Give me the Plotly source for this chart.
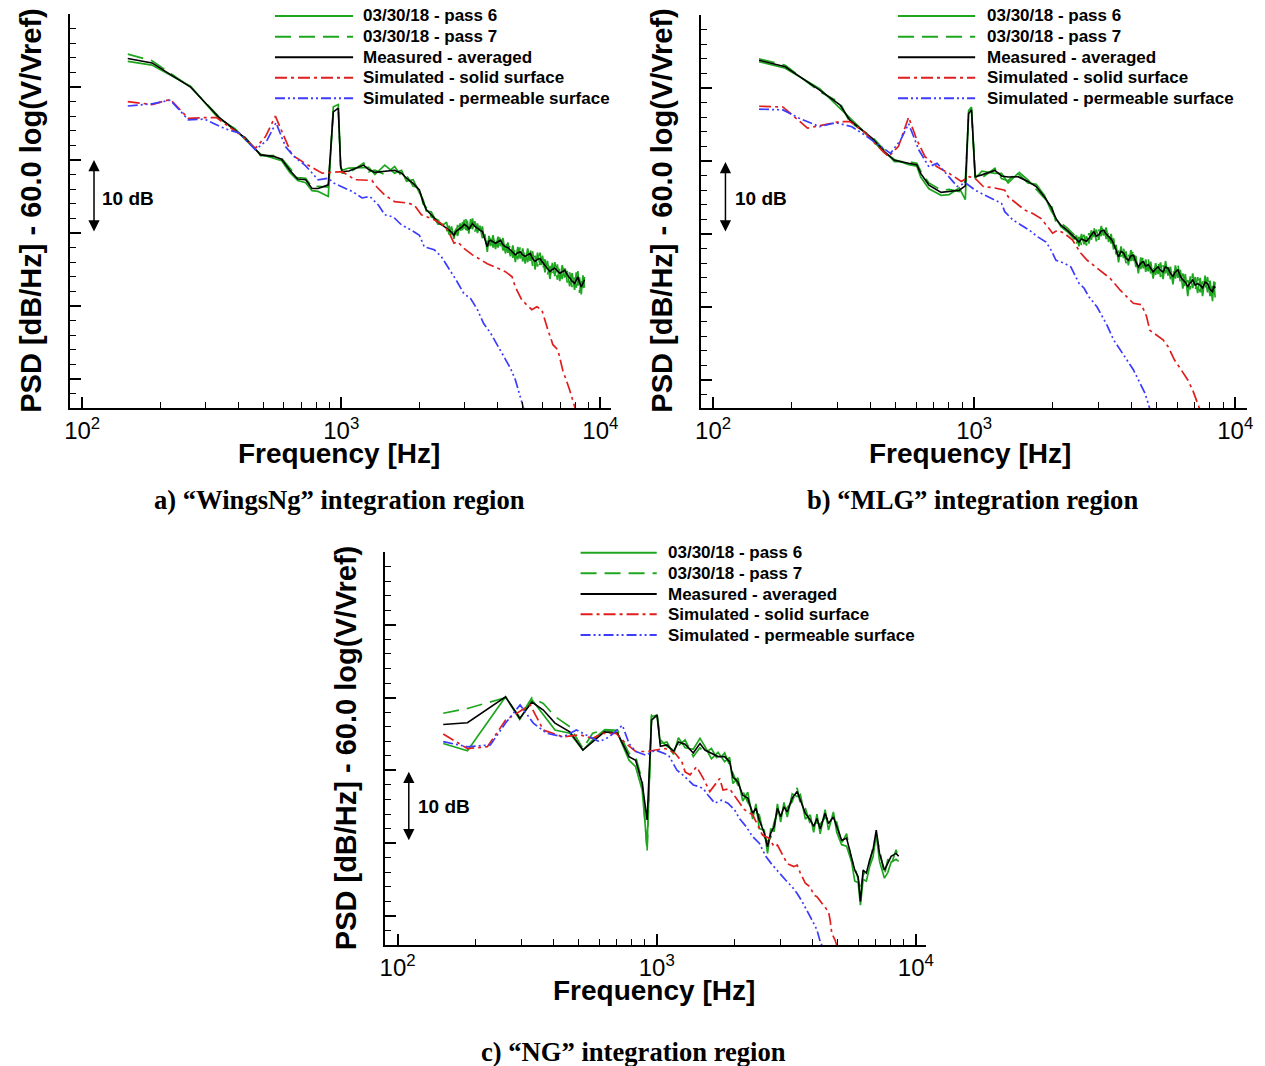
import plotly.graph_objects as go

W, H = 1265, 1066

# ---------------- data: panel a ("WingsNg") ----------------
A_freq = [150, 186, 262, 336, 389, 426, 488, 548, 589, 633, 679, 729, 771, 814, 891, 932, 974, 995, 1009, 1070,
          1221, 1276, 1348, 1472, 1607, 1709, 1786, 1895, 2003, 2069, 2129, 2224, 2361, 2494] + \
         [2550, 2606, 2665, 2723, 2768, 2813, 2876, 2939, 2982, 3026, 3066, 3107, 3158, 3210, 3281, 3354, 3429, 3505, 3583, 3662,
          3716, 3770, 3854, 3939, 4027, 4117, 4209, 4302, 4398, 4496, 4596, 4698, 4802, 4908, 5017, 5128, 5242, 5358, 5477, 5598,
          5722, 5850, 5980, 6113, 6249, 6387, 6529, 6674, 6822, 6974, 7129, 7287, 7449, 7614, 7783, 7957, 8073, 8190, 8315, 8440,
          8565, 8690]
A_pass6 = [53.5, 53.0, 50.1, 45.7, 44.3, 42.8, 40.8, 40.3, 39.9, 38.3, 37.2, 36.9, 35.8, 35.7, 35.0, 47.3, 47.6, 39.0, 38.6, 38.9,
           38.9, 39.0, 38.0, 39.3, 38.2, 38.6, 37.1, 37.3, 35.5, 34.6, 33.0, 32.9, 31.2, 31.2] + \
          [31.5, 29.8, 30.9, 29.2, 30.6, 29.6, 31.3, 30.4, 31.8, 30.4, 31.7, 29.9, 31.9, 30.5, 31.6, 30.0, 31.0, 29.3, 29.8, 27.4,
           29.6, 28.2, 29.7, 27.8, 29.5, 28.2, 29.3, 27.2, 28.7, 26.8, 28.3, 26.0, 28.1, 26.5, 27.9, 25.8, 27.9, 26.2, 27.5, 25.0,
           27.3, 25.6, 26.9, 24.6, 26.2, 23.7, 25.9, 24.1, 25.7, 23.4, 25.6, 23.9, 24.8, 22.7, 24.5, 22.2, 24.6, 22.8, 23.9, 21.6,
           24.2, 22.5]
A_pass7 = [54.5, 53.6, 50.0, 46.0, 44.0, 43.1, 40.6, 40.6, 40.2, 38.8, 37.6, 37.5, 36.3, 36.4, 36.3, 46.8, 46.9, 39.3, 38.2, 38.2,
           39.6, 38.4, 38.6, 38.0, 39.1, 37.8, 37.9, 36.4, 36.2, 34.0, 33.5, 32.2, 31.8, 30.6] + \
          [30.2, 31.0, 29.5, 30.3, 29.8, 31.1, 30.0, 31.5, 30.6, 31.9, 30.3, 31.2, 30.6, 32.0, 30.2, 31.3, 29.8, 30.9, 28.4, 28.9,
           28.3, 29.8, 28.0, 29.4, 28.0, 29.8, 27.6, 28.9, 27.3, 28.5, 26.6, 27.8, 26.4, 28.1, 26.1, 27.6, 26.0, 28.0, 25.5, 26.9,
           25.4, 27.3, 24.9, 26.4, 24.3, 25.5, 24.0, 26.0, 23.6, 25.3, 23.7, 25.7, 23.2, 24.6, 22.6, 23.9, 22.5, 24.8, 21.8, 23.4,
           22.3, 24.0]
A_avg = [53.9, 53.3, 50.0, 45.9, 44.1, 43.0, 40.7, 40.5, 40.1, 38.6, 37.4, 37.3, 36.1, 36.1, 36.6, 46.6, 47.1, 39.1, 38.4, 38.5,
         39.3, 38.7, 38.3, 38.5, 38.6, 38.2, 37.5, 36.8, 35.9, 34.3, 33.2, 32.5, 31.5, 30.9] + \
        [30.7, 30.4, 30.1, 29.7, 30.2, 30.4, 30.6, 30.9, 31.2, 31.1, 30.9, 30.5, 31.0, 31.3, 30.9, 30.6, 30.4, 30.2, 29.0, 28.1,
         28.9, 29.0, 28.8, 28.6, 28.8, 29.0, 28.4, 28.1, 28.0, 27.7, 27.4, 27.0, 27.3, 27.4, 27.0, 26.8, 27.0, 27.2, 26.5, 26.1,
         26.4, 26.5, 26.0, 25.6, 25.2, 24.7, 25.0, 25.2, 24.8, 24.5, 24.7, 24.9, 24.3, 23.8, 23.4, 23.1, 23.6, 24.0, 23.2, 22.6,
         23.1, 23.6]
A_solid_freq = [150, 186, 219, 257, 297, 330, 361, 411, 466, 510, 557, 610, 645, 729, 844, 908, 1009, 1131, 1313, 1372,
                1472, 1607, 1813, 1916, 2038, 2224, 2430, 2577, 2723, 2813, 2974, 3210, 3453, 3662, 4000, 4302, 4564, 4698, 4982, 5440,
                5685, 5940, 6280, 6560, 6855, 7161, 7614, 7957, 8150]
A_solid = [48.0, 47.6, 48.3, 45.7, 45.8, 45.8, 44.8, 43.4, 41.6, 43.2, 46.0, 42.7, 40.7, 39.5, 38.2, 38.3, 38.4, 37.3, 37.2, 36.3,
           35.2, 34.3, 34.1, 33.8, 32.5, 32.0, 31.3, 30.4, 28.6, 28.8, 27.9, 27.0, 26.3, 25.8, 25.2, 24.7, 24.0, 22.6, 20.8, 19.5,
           19.9, 19.5, 16.7, 14.7, 14.0, 11.2, 8.5, 6.2, 5.0]
A_perm_freq = [150, 186, 219, 257, 297, 355, 404, 466, 517, 560, 610, 656, 729, 814, 891, 940, 1009, 1102, 1203, 1290,
               1393, 1472, 1589, 1709, 1866, 2003, 2092, 2285, 2430, 2577, 2772, 2974, 3162, 3354, 3545, 3770, 4000, 4227, 4496, 4698,
               4908, 5040, 5150]
A_perm = [47.4, 47.7, 48.2, 45.5, 45.6, 44.3, 43.7, 41.4, 42.7, 45.1, 41.8, 40.5, 39.2, 37.3, 37.5, 36.8, 36.3, 35.7, 34.8, 35.0,
          33.8, 32.5, 32.2, 31.1, 30.4, 29.7, 28.1, 27.7, 26.8, 25.4, 23.6, 21.7, 21.0, 19.5, 17.6, 16.3, 14.7, 13.1, 11.5, 9.9,
          7.6, 6.2, 5.0]

# ---------------- data: panel b ("MLG") ----------------
B_freq = [150, 189, 256, 306, 334, 407, 453, 495, 561, 603, 624, 671, 747, 802, 877, 925, 952, 977, 1009, 1070,
          1201, 1273, 1349, 1472, 1606, 1728, 1857, 1970, 2058, 2149, 2276, 2413] + \
         [2465, 2520, 2577, 2634, 2692, 2751, 2811, 2873, 2937, 3002, 3068, 3135, 3204, 3274, 3346, 3420, 3496, 3573, 3652, 3732,
          3814, 3898, 3984, 4072, 4162, 4254, 4348, 4443, 4541, 4642, 4744, 4848, 4955, 5064, 5176, 5291, 5407, 5526, 5648, 5773,
          5900, 6030, 6163, 6299, 6438, 6580, 6725, 6873, 7024, 7178, 7337, 7499, 7664, 7833, 8007, 8185, 8280, 8375]
B_pass6 = [53.6, 52.7, 49.9, 47.3, 45.9, 42.9, 41.1, 40.2, 39.5, 39.3, 37.8, 36.2, 35.3, 35.4, 36.3, 34.7, 46.9, 47.4, 37.6, 38.6,
           38.3, 38.3, 37.0, 38.3, 37.0, 36.8, 35.3, 33.2, 32.0, 31.0, 30.3, 29.3] + \
          [29.8, 28.3, 30.0, 28.6, 29.7, 28.7, 30.5, 29.6, 30.6, 29.2, 31.1, 29.8, 30.9, 28.9, 30.0, 27.9, 28.5, 26.1, 28.3, 26.7,
           27.6, 25.7, 27.8, 26.3, 27.0, 24.6, 26.8, 25.3, 26.5, 24.9, 26.2, 23.9, 26.0, 24.5, 26.1, 23.8, 26.3, 24.3, 25.5, 23.1,
           25.7, 24.0, 25.1, 22.5, 24.5, 21.5, 24.2, 22.6, 24.1, 21.9, 24.0, 21.5, 24.3, 22.0, 23.6, 20.8, 23.5, 21.3]
B_pass7 = [54.0, 53.1, 49.5, 48.0, 45.3, 43.3, 41.5, 39.9, 39.9, 39.7, 38.6, 37.0, 36.0, 36.1, 35.8, 37.3, 46.2, 46.7, 38.1, 37.7,
           39.0, 37.6, 37.3, 38.6, 37.4, 36.1, 34.9, 34.1, 31.6, 31.5, 30.8, 29.9] + \
          [28.7, 29.6, 28.5, 29.9, 28.4, 30.1, 29.2, 31.0, 29.0, 30.6, 29.7, 31.2, 29.3, 30.3, 28.7, 29.4, 27.2, 27.7, 26.9, 28.1,
           26.0, 27.2, 26.3, 27.9, 25.5, 26.4, 25.2, 27.0, 24.8, 26.6, 24.6, 25.6, 24.4, 26.3, 24.1, 25.7, 24.6, 26.0, 23.8, 25.1,
           23.9, 25.9, 23.3, 24.6, 22.6, 23.7, 22.4, 24.6, 22.2, 24.1, 22.0, 23.5, 22.5, 24.1, 21.5, 22.9, 21.9, 23.4]
B_avg = [53.8, 52.9, 49.7, 47.7, 45.6, 43.1, 41.3, 40.1, 39.7, 39.5, 38.3, 36.7, 35.7, 35.8, 36.0, 36.6, 46.5, 47.0, 37.85, 38.1,
         38.7, 37.95, 37.8, 37.85, 37.2, 36.5, 35.1, 33.7, 32.1, 31.2, 30.5, 29.6] + \
        [29.2, 28.9, 29.3, 29.2, 29.0, 29.4, 29.9, 30.3, 29.7, 29.9, 30.4, 30.5, 30.0, 29.6, 29.3, 28.7, 27.8, 26.9, 27.6, 27.4,
         26.7, 26.4, 27.0, 27.1, 26.2, 25.5, 26.0, 26.2, 25.6, 25.8, 25.3, 24.8, 25.2, 25.5, 25.0, 24.8, 25.5, 25.3, 24.6, 24.2,
         24.8, 25.1, 24.2, 23.7, 23.4, 22.8, 23.3, 23.7, 23.0, 23.2, 23.0, 22.6, 23.4, 23.2, 22.4, 22.1, 22.9, 22.6]
B_solid_freq = [150, 185, 230, 265, 306, 334, 379, 422, 470, 513, 561, 603, 648, 721, 802, 893, 960, 1009, 1084, 1201,
                1310, 1349, 1472, 1560, 1677, 1805, 1911, 1997, 2086, 2212, 2377, 2558, 2710, 2916, 3135, 3322, 3627, 3842, 4072, 4378,
                4574, 4710, 4989, 5291, 5526, 5860, 6205, 6580, 6873, 7178, 7400]
B_solid = [47.5, 47.4, 44.5, 44.9, 45.4, 45.4, 44.0, 42.2, 40.6, 42.0, 46.0, 42.9, 40.6, 39.2, 38.3, 37.2, 37.85, 37.6, 36.5, 36.3,
           36.0, 35.1, 34.0, 33.3, 32.8, 32.1, 31.0, 30.1, 30.5, 30.1, 29.2, 27.4, 26.4, 25.5, 24.6, 23.9, 22.3, 21.4, 20.5, 20.3,
           18.7, 16.8, 16.2, 15.5, 14.6, 12.7, 11.4, 10.0, 8.6, 6.8, 5.5]
B_perm_freq = [150, 185, 214, 256, 295, 340, 379, 422, 478, 523, 561, 614, 671, 721, 802, 862, 926, 1009, 1101, 1201,
               1273, 1310, 1409, 1516, 1630, 1752, 1886, 1970, 2058, 2212, 2345, 2413, 2520, 2634, 2751, 2957, 3089, 3227, 3420, 3627,
               3842, 4072, 4317, 4509, 4642, 4750]
B_perm = [47.1, 47.0, 45.85, 44.7, 45.25, 44.7, 43.6, 42.4, 41.05, 42.9, 45.1, 41.5, 39.2, 39.7, 37.85, 36.5, 37.0, 36.0, 35.3, 34.65,
          34.2, 33.05, 31.9, 31.2, 30.5, 29.6, 28.9, 27.8, 26.4, 26.0, 25.5, 24.6, 23.25, 22.6, 21.4, 20.0, 18.7, 17.5, 15.5, 14.1,
          12.7, 11.4, 9.55, 8.2, 6.8, 5.5]

# ---------------- data: panel c ("NG") ----------------
C_freq = [150, 186, 261, 296, 330, 365, 405, 462, 519, 566, 628, 706, 782, 829, 879, 918, 955, 1003, 1033, 1095,
          1161, 1213, 1287, 1384, 1469, 1535, 1626, 1725, 1829, 1911, 1968, 2056, 2148, 2245, 2346, 2415, 2488, 2600, 2677, 2756,
          2840, 2923, 3009, 3099, 3190, 3334, 3483, 3585, 3747, 3915, 4034, 4153, 4275, 4467, 4603, 4808, 4952, 5173, 5405, 5648,
          5814, 5991, 6113, 6260, 6445, 6635, 6836, 7037, 7244, 7568, 7800, 8030, 8390, 8590]
C_pass6 = [33.7, 32.7, 40.1, 37.0, 39.7, 37.6, 35.55, 35.1, 32.8, 34.2, 35.55, 35.1, 31.4, 30.5, 27.3, 19.5, 37.4, 37.6, 33.7, 33.9,
           32.2, 34.5, 33.1, 32.9, 34.4, 33.3, 31.6, 32.5, 31.2, 31.8, 28.2, 29.0, 25.8, 27.0, 23.3, 25.4, 22.0, 21.8, 18.6, 22.0,
           21.6, 25.4, 22.9, 25.6, 23.6, 26.8, 26.4, 26.7, 23.3, 23.9, 21.5, 24.0, 21.3, 24.6, 21.8, 24.3, 21.5, 19.8, 19.6, 17.5,
           14.8, 14.6, 11.5, 15.0, 14.8, 16.8, 18.1, 21.2, 17.5, 15.2, 16.0, 17.4, 17.8, 17.5]
C_pass7 = [37.85, 38.5, 40.0, 37.3, 40.0, 39.2, 37.4, 36.0, 33.0, 35.1, 35.6, 35.5, 32.35, 31.9, 28.6, 18.8, 37.6, 37.85, 34.2, 33.3,
           32.8, 33.4, 34.2, 31.9, 33.1, 32.4, 33.0, 31.4, 32.4, 30.7, 29.7, 28.0, 27.2, 25.6, 24.6, 24.3, 23.9, 20.9, 20.2, 20.8,
           22.9, 24.2, 24.3, 24.5, 24.9, 25.7, 27.6, 25.4, 24.8, 22.6, 23.0, 22.8, 22.6, 23.5, 23.3, 23.0, 22.9, 20.0, 21.3, 17.6,
           16.9, 15.0, 13.5, 15.6, 16.5, 16.9, 19.7, 20.9, 19.2, 15.6, 17.8, 17.0, 19.1, 17.6]
C_avg = [36.3, 36.55, 40.1, 37.15, 39.4, 38.3, 36.5, 35.3, 32.8, 33.9, 35.3, 35.1, 31.9, 31.4, 28.2, 23.2, 36.9, 37.6, 33.3, 33.5,
         32.6, 33.9, 33.6, 32.4, 33.7, 32.8, 32.35, 31.9, 31.9, 31.2, 29.1, 28.45, 26.6, 26.2, 24.1, 24.8, 23.2, 21.4, 19.5, 21.4,
         22.3, 24.8, 23.65, 25.0, 24.3, 26.2, 27.1, 26.0, 24.1, 23.2, 22.3, 23.4, 22.0, 24.1, 22.7, 23.6, 22.3, 20.4, 20.7, 18.2,
         16.3, 15.4, 12.0, 16.3, 15.9, 17.7, 19.1, 21.8, 18.6, 16.3, 17.2, 18.2, 18.6, 18.2]
C_solid_freq = [150, 186, 222, 261, 325, 365, 435, 504, 566, 618, 696, 760, 829, 918, 989, 1079, 1179, 1250, 1287, 1345,
                1425, 1512, 1603, 1751, 1802, 1911, 2025, 2181, 2346, 2451, 2561, 2716, 2840, 2923, 3053, 3190, 3383, 3483, 3585, 3747,
                3915, 4034, 4153, 4405, 4603, 4670, 4740, 4880, 5000]
C_solid = [35.0, 33.0, 33.25, 36.9, 39.0, 35.55, 34.6, 34.9, 34.4, 35.1, 35.1, 33.7, 32.6, 32.6, 32.8, 33.0, 32.35, 31.2, 29.8, 29.4,
           30.5, 28.9, 27.1, 28.9, 27.3, 27.5, 26.2, 24.6, 23.9, 22.5, 21.1, 20.7, 19.5, 19.75, 18.4, 17.2, 16.8, 17.0, 15.9, 14.5,
           14.0, 12.9, 12.65, 11.5, 10.6, 9.45, 7.6, 6.7, 5.5]
C_perm_freq = [150, 186, 228, 261, 297, 334, 376, 435, 490, 550, 601, 656, 737, 782, 829, 906, 989, 1111, 1196, 1287,
               1384, 1447, 1512, 1579, 1675, 1775, 1883, 1997, 2086, 2212, 2346, 2488, 2636, 2796, 2966, 3143, 3334, 3483, 3640, 3804,
               3974, 4153, 4275, 4400]
C_perm = [33.95, 33.25, 33.5, 36.5, 39.0, 36.5, 35.1, 34.6, 35.55, 34.6, 33.95, 34.6, 36.2, 33.7, 32.6, 32.1, 32.8, 32.1, 30.05, 29.1,
          28.0, 27.8, 27.5, 26.6, 25.5, 25.9, 25.5, 24.6, 23.4, 22.3, 20.9, 20.0, 18.2, 17.0, 15.9, 14.95, 14.0, 13.1, 12.0, 10.8,
          9.45, 8.1, 6.5, 5.5]

series_names = ["03/30/18 - pass 6", "03/30/18 - pass 7", "Measured - averaged",
                "Simulated - solid surface", "Simulated - permeable surface"]
captions = ["a) \u201cWingsNg\u201d integration region",
            "b) \u201cMLG\u201d integration region",
            "c) \u201cNG\u201d integration region"]
x_tick_vals = [100, 1000, 10000]
x_tick_text = ["10<sup>2</sup>", "10<sup>3</sup>", "10<sup>4</sup>"]
x_minor_vals = [200, 300, 400, 500, 600, 700, 800, 900, 2000, 3000, 4000, 5000, 6000, 7000, 8000, 9000]
y_tick_vals = [10, 20, 30, 40, 50, 60]
y_title = "PSD [dB/Hz] - 60.0 log(V/Vref)"
x_title = "Frequency [Hz]"
arrow_label = "10 dB"

# ---------------- styles ----------------
GREEN = "#1fa61f"
RED = "#e01e1e"
BLUE = "#3c3cff"
colors = [GREEN, GREEN, "#000000", RED, BLUE]
dashes = ["solid", "16px,8px", "solid", "12px,4px,3px,4px", "10px,3px,2px,3px,2px,3px"]
widths = [1.7, 1.7, 1.6, 1.7, 1.7]
SANS = "Liberation Sans, Arial, sans-serif"
SERIF = "Liberation Serif, Times New Roman, serif"

panels = [
    dict(data=[(A_freq, A_pass6), (A_freq, A_pass7), (A_freq, A_avg), (A_solid_freq, A_solid), (A_perm_freq, A_perm)],
         box=(65, 612, 14, 408), xr=[1.9542, 4.042], yr=[6.03, 60],
         leg_line=(272, 351), leg_text=359, leg_rows=[16, 36.7, 57.3, 77.7, 98.3],
         arrow=(89, 160, 233), arrow_text=(95, 198), ytitle=(25, 211), xtitle=(337, 453), caption=(337, 500)),
    dict(data=[(B_freq, B_pass6), (B_freq, B_pass7), (B_freq, B_avg), (B_solid_freq, B_solid), (B_perm_freq, B_perm)],
         box=(703, 1255, 15, 408), xr=[1.9545, 4.0455], yr=[6.16, 60],
         leg_line=(902, 980), leg_text=990, leg_rows=[16, 36.7, 57.3, 77.7, 98.3],
         arrow=(727.5, 162, 233), arrow_text=(735, 198), ytitle=(663, 211), xtitle=(975, 453), caption=(977, 500)),
    dict(data=[(C_freq, C_pass6), (C_freq, C_pass7), (C_freq, C_avg), (C_solid_freq, C_solid), (C_perm_freq, C_perm)],
         box=(383.5, 930, 552, 945), xr=[1.9523, 4.0382], yr=[6.02, 60],
         leg_line=(581, 658), leg_text=667, leg_rows=[552.7, 573.3, 594, 614.3, 635],
         arrow=(407.3, 771.7, 841.7), arrow_text=(415, 806.7), ytitle=(344, 748), xtitle=(655, 990), caption=(635, 1052)),
]


def PX(x):
    return x / W


def PY(y):
    return 1 - y / H


fig = go.Figure()
shapes = []
annotations = []
layout_axes = {}

for i, p in enumerate(panels):
    n = "" if i == 0 else str(i + 1)
    xa, ya = "x" + n, "y" + n
    for k, (fx, fy) in enumerate(p["data"]):
        fig.add_trace(go.Scatter(
            x=fx, y=fy, mode="lines", name=series_names[k], showlegend=False,
            xaxis=xa, yaxis=ya,
            line=dict(color=colors[k], width=widths[k], dash=dashes[k])))
    x0, x1, y0, y1 = p["box"]
    layout_axes["xaxis" + n] = dict(
        type="log", range=p["xr"], domain=[PX(x0), PX(x1)], anchor=ya,
        showline=True, linecolor="black", linewidth=2, mirror=False,
        ticks="inside", ticklen=11, tickwidth=2, tickcolor="black",
        tickvals=x_tick_vals, ticktext=x_tick_text,
        tickfont=dict(family=SANS, size=24, color="black"),
        showgrid=False, zeroline=False,
        minor=dict(tickvals=x_minor_vals, ticks="inside", ticklen=6, tickwidth=1,
                   tickcolor="black", showgrid=False))
    layout_axes["yaxis" + n] = dict(
        range=p["yr"], domain=[PY(y1), PY(y0)], anchor=xa,
        showline=True, linecolor="black", linewidth=2, mirror=False,
        ticks="inside", ticklen=11, tickwidth=2, tickcolor="black",
        tickvals=y_tick_vals, showticklabels=False,
        showgrid=False, zeroline=False,
        minor=dict(dtick=2, ticks="inside", ticklen=6, tickwidth=1,
                   tickcolor="black", showgrid=False))

    # legend (sample lines + labels)
    lx0, lx1 = p["leg_line"]
    for k, ry in enumerate(p["leg_rows"]):
        shapes.append(dict(type="line", xref="paper", yref="paper",
                           x0=PX(lx0), x1=PX(lx1), y0=PY(ry), y1=PY(ry),
                           line=dict(color=colors[k], width=widths[k] + 0.3, dash=dashes[k])))
        annotations.append(dict(text="<b>" + series_names[k] + "</b>", xref="paper", yref="paper",
                                x=PX(p["leg_text"]), y=PY(ry), xanchor="left", yanchor="middle",
                                showarrow=False, font=dict(family=SANS, size=17, color="black")))

    # 10 dB scale arrow
    ax_x, ay_top, ay_bot = p["arrow"]
    annotations.append(dict(text="", xref="paper", yref="paper", x=PX(ax_x), y=PY(ay_top),
                            ax=0, ay=ay_bot - ay_top, axref="pixel", ayref="pixel",
                            showarrow=True, arrowside="end+start", arrowhead=2, arrowsize=1.5,
                            arrowwidth=1.5, arrowcolor="black", standoff=0, startstandoff=0))
    annotations.append(dict(text="<b>" + arrow_label + "</b>", xref="paper", yref="paper",
                            x=PX(p["arrow_text"][0]), y=PY(p["arrow_text"][1]),
                            xanchor="left", yanchor="middle", showarrow=False,
                            font=dict(family=SANS, size=19, color="black")))
    # axis titles and caption
    annotations.append(dict(text="<b>" + y_title + "</b>", xref="paper", yref="paper",
                            x=PX(p["ytitle"][0]), y=PY(p["ytitle"][1]), textangle=-90,
                            xanchor="center", yanchor="middle", showarrow=False,
                            font=dict(family=SANS, size=29, color="black")))
    annotations.append(dict(text="<b>" + x_title + "</b>", xref="paper", yref="paper",
                            x=PX(p["xtitle"][0]), y=PY(p["xtitle"][1]),
                            xanchor="center", yanchor="middle", showarrow=False,
                            font=dict(family=SANS, size=28, color="black")))
    annotations.append(dict(text="<b>" + captions[i] + "</b>", xref="paper", yref="paper",
                            x=PX(p["caption"][0]), y=PY(p["caption"][1]),
                            xanchor="center", yanchor="middle", showarrow=False,
                            font=dict(family=SERIF, size=26.6, color="black")))

fig.update_layout(
    width=W, height=H, margin=dict(l=0, r=0, t=0, b=0),
    paper_bgcolor="white", plot_bgcolor="white",
    showlegend=False, shapes=shapes, annotations=annotations,
    **layout_axes)

fig.write_html("out.html")
